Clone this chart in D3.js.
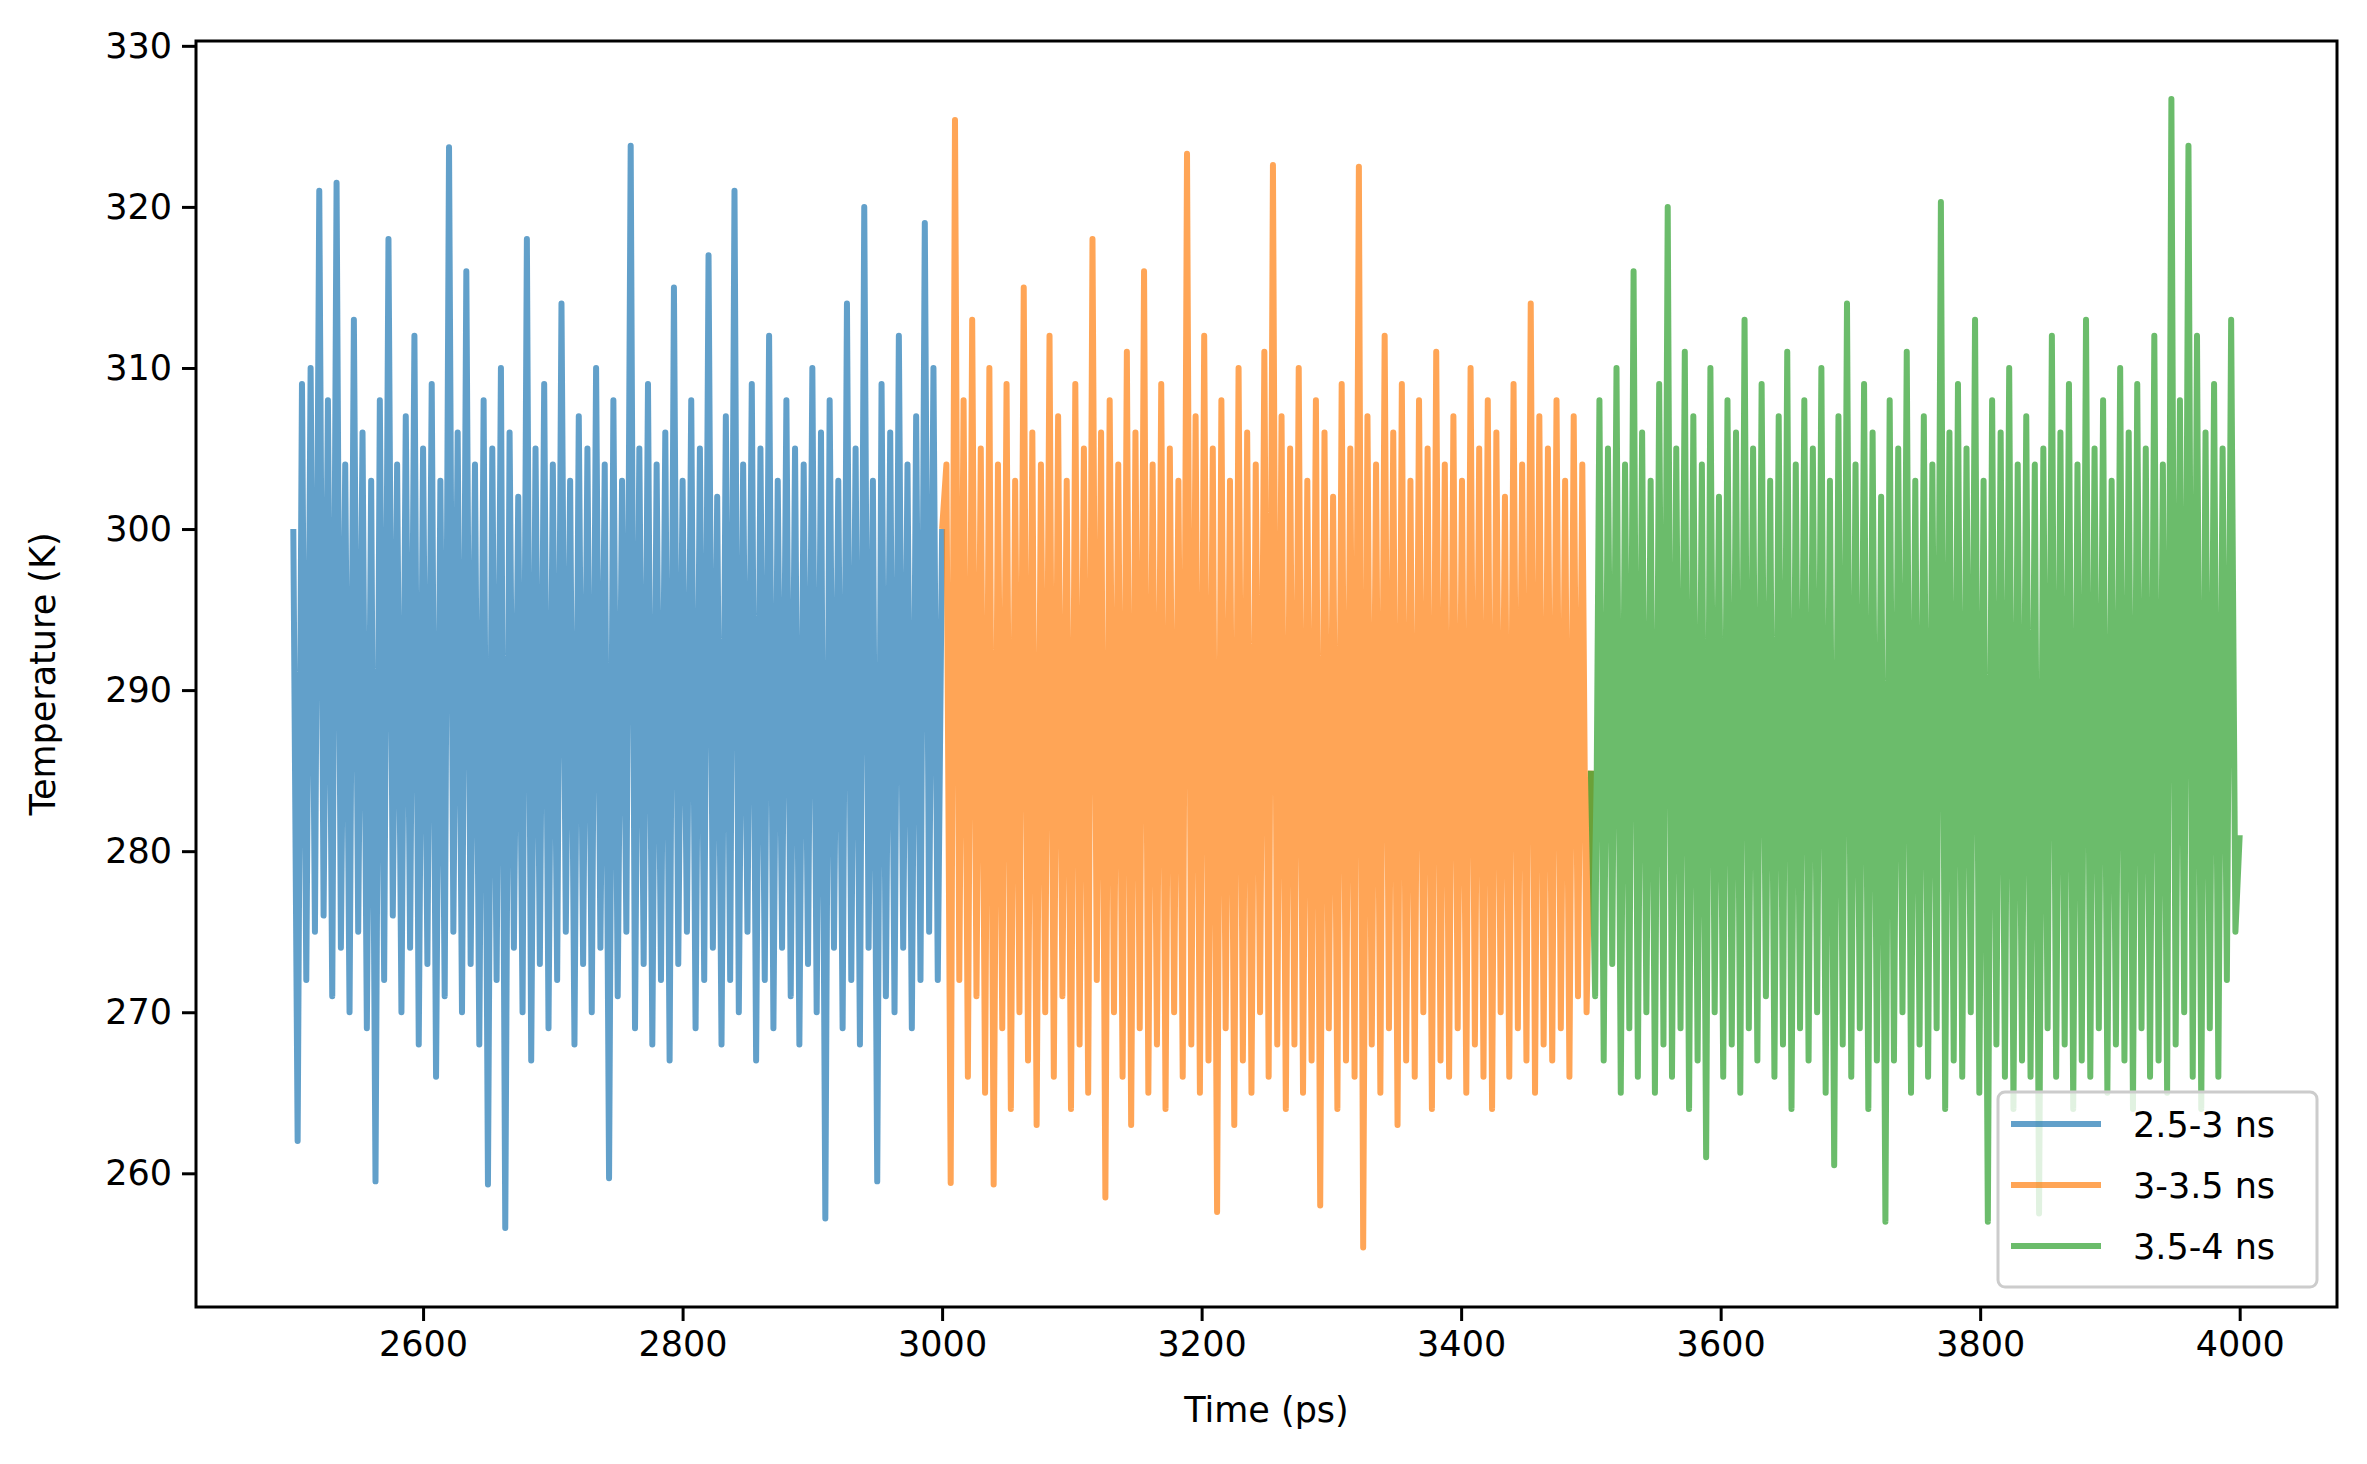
<!DOCTYPE html>
<html>
<head>
<script src="https://d3js.org/d3.v7.min.js"></script>
<style>
  body { margin: 0; background: #fff; }
  text { font-family: "DejaVu Sans", sans-serif; }
</style>
</head>
<body>
<div id="chart"></div>
<script>
  // temperature traces (evenly spaced over each 500 ps block)
  var seriesNames = ["2.5-3 ns", "3-3.5 ns", "3.5-4 ns"];
  var seriesStart = [2500, 3000, 3500];
  var seriesColors = ["#1f77b4", "#ff7f0e", "#2ca02c"];

  var blueTemps = [
    300, 262, 309, 272, 310, 275, 321, 276, 308, 271,
    321.5, 274, 304, 270, 313, 275, 306, 269, 303, 259.5,
    308, 272, 318, 276, 304, 270, 307, 274, 312, 268,
    305, 273, 309, 266, 303, 271, 323.7, 275, 306, 270,
    316, 273, 304, 268, 308, 259.3, 305, 272, 310, 256.6,
    306, 274, 302, 270, 318, 267, 305, 273, 309, 269,
    304, 272, 314, 275, 303, 268, 307, 273, 305, 270,
    310, 274, 304, 259.7, 308, 271, 303, 275, 323.8, 269,
    305, 273, 309, 268, 304, 272, 306, 267, 315, 273,
    303, 275, 308, 269, 305, 272, 317, 274, 302, 268,
    307, 272, 321, 270, 304, 275, 309, 267, 305, 272,
    312, 269, 303, 274, 308, 271, 305, 268, 304, 273,
    310, 270, 306, 257.2, 308, 274, 303, 269, 314, 272,
    305, 268, 320, 274, 303, 259.5, 309, 271, 306, 270,
    312, 274, 304, 269, 307, 272, 319, 275, 310, 272,
    300
  ];
  var orangeTemps = [
    300, 304, 259.4, 325.4, 272, 308, 266, 313, 271, 305,
    265, 310, 259.3, 304, 269, 309, 264, 303, 270, 315,
    267, 306, 263, 304, 270, 312, 266, 307, 271, 303,
    264, 309, 268, 305, 265, 318, 272, 306, 258.5, 308, 270,
    304, 266, 311, 263, 306, 269, 316, 265, 304, 268,
    309, 264, 305, 270, 303, 266, 323.3, 268, 307, 265,
    312, 267, 305, 257.6, 308, 269, 303, 263, 310, 267,
    306, 265, 304, 270, 311, 266, 322.6, 268, 307, 264,
    305, 268, 310, 265, 303, 267, 308, 258, 306, 269,
    302, 264, 309, 267, 305, 266, 322.5, 255.4, 307, 268,
    304, 265, 312, 269, 306, 263, 309, 267, 303, 266,
    308, 270, 305, 264, 311, 267, 304, 266, 307, 269,
    303, 265, 310, 268, 305, 266, 308, 264, 306, 270,
    302, 266, 309, 269, 304, 267, 314, 265, 307, 268,
    305, 267, 308, 269, 303, 266, 307, 271, 304, 270,
    285
  ];
  var greenTemps = [
    285, 271, 308, 267, 305, 273, 310, 265, 304, 269,
    316, 266, 306, 270, 303, 265, 309, 268, 320, 266,
    305, 269, 311, 264, 307, 267, 304, 261, 310, 270,
    302, 266, 308, 268, 306, 265, 313, 269, 305, 267,
    309, 271, 303, 266, 307, 268, 311, 264, 304, 269,
    308, 267, 305, 270, 310, 265, 303, 260.5, 307, 268,
    314, 266, 304, 269, 309, 264, 306, 267, 302, 257,
    308, 267, 305, 270, 311, 265, 303, 268, 307, 266,
    304, 269, 320.3, 264, 306, 267, 309, 266, 305, 270,
    313, 265, 303, 257, 308, 268, 306, 266, 310, 264,
    304, 267, 307, 266, 304, 257.5, 305, 269, 312, 266, 306,
    268, 309, 264, 304, 267, 313, 266, 305, 269, 308,
    265, 303, 268, 310, 267, 306, 264, 309, 269, 305,
    266, 312, 267, 304, 265, 326.7, 268, 308, 270, 323.8, 266,
    312, 264, 306, 269, 309, 266, 305, 272, 313, 275,
    281
  ];
  var allTemps = [blueTemps, orangeTemps, greenTemps];
  var xTicks = [2600, 2800, 3000, 3200, 3400, 3600, 3800, 4000];
  var yTicks = [260, 270, 280, 290, 300, 310, 320, 330];

  var width = 2367, height = 1464;
  var margin = { top: 41, right: 30, bottom: 157, left: 196 };

  var svg = d3.select("#chart").append("svg")
    .attr("width", width).attr("height", height);

  var x = d3.scaleLinear().domain([2425, 4075])
    .range([margin.left, width - margin.right]);
  var y = d3.scaleLinear().domain([251.7, 330.3])
    .range([height - margin.bottom, margin.top]);

  var line = d3.line().x(function (d) { return x(d.t); }).y(function (d) { return y(d.v); });

  allTemps.forEach(function (vals, k) {
    var step = 500 / (vals.length - 1);
    var pts = vals.map(function (v, i) { return { t: seriesStart[k] + i * step, v: v }; });
    svg.append("path")
      .datum(pts)
      .attr("d", line)
      .attr("fill", "none")
      .attr("stroke", seriesColors[k])
      .attr("stroke-opacity", 0.7)
      .attr("stroke-width", 6)
      .attr("stroke-linejoin", "round");
  });

  var xAxis = svg.append("g")
    .attr("transform", "translate(0," + (height - margin.bottom) + ")")
    .call(d3.axisBottom(x).tickValues(xTicks).tickFormat(d3.format("d")).tickSize(14).tickPadding(10));
  var yAxis = svg.append("g")
    .attr("transform", "translate(" + margin.left + ",0)")
    .call(d3.axisLeft(y).tickValues(yTicks).tickFormat(d3.format("d")).tickSize(14).tickPadding(10));
  [xAxis, yAxis].forEach(function (g) {
    g.select(".domain").remove();
    g.selectAll(".tick line").attr("stroke", "#000").attr("stroke-width", 3);
    g.selectAll(".tick text").attr("font-size", 35).attr("fill", "#000")
      .style("font-family", "DejaVu Sans");
  });

  // frame
  svg.append("rect")
    .attr("x", margin.left).attr("y", margin.top)
    .attr("width", width - margin.left - margin.right)
    .attr("height", height - margin.top - margin.bottom)
    .attr("fill", "none").attr("stroke", "#000").attr("stroke-width", 3);

  svg.append("text")
    .attr("x", (margin.left + width - margin.right) / 2).attr("y", 1422)
    .attr("text-anchor", "middle").attr("font-size", 35).text("Time (ps)");
  svg.append("text")
    .attr("transform", "translate(55," + ((margin.top + height - margin.bottom) / 2) + ") rotate(-90)")
    .attr("text-anchor", "middle").attr("font-size", 35).text("Temperature (K)");

  // legend
  var lg = svg.append("g");
  lg.append("rect")
    .attr("x", 1998).attr("y", 1092).attr("width", 319).attr("height", 195)
    .attr("rx", 7).attr("fill", "#fff").attr("fill-opacity", 0.8)
    .attr("stroke", "#cccccc").attr("stroke-width", 3);
  seriesNames.forEach(function (name, k) {
    var ry = 1124 + k * 61;
    lg.append("line")
      .attr("x1", 2011).attr("x2", 2101).attr("y1", ry).attr("y2", ry)
      .attr("stroke", seriesColors[k]).attr("stroke-opacity", 0.7).attr("stroke-width", 6);
    lg.append("text")
      .attr("x", 2133).attr("y", ry + 13).attr("font-size", 35).text(name);
  });
</script>
</body>
</html>
